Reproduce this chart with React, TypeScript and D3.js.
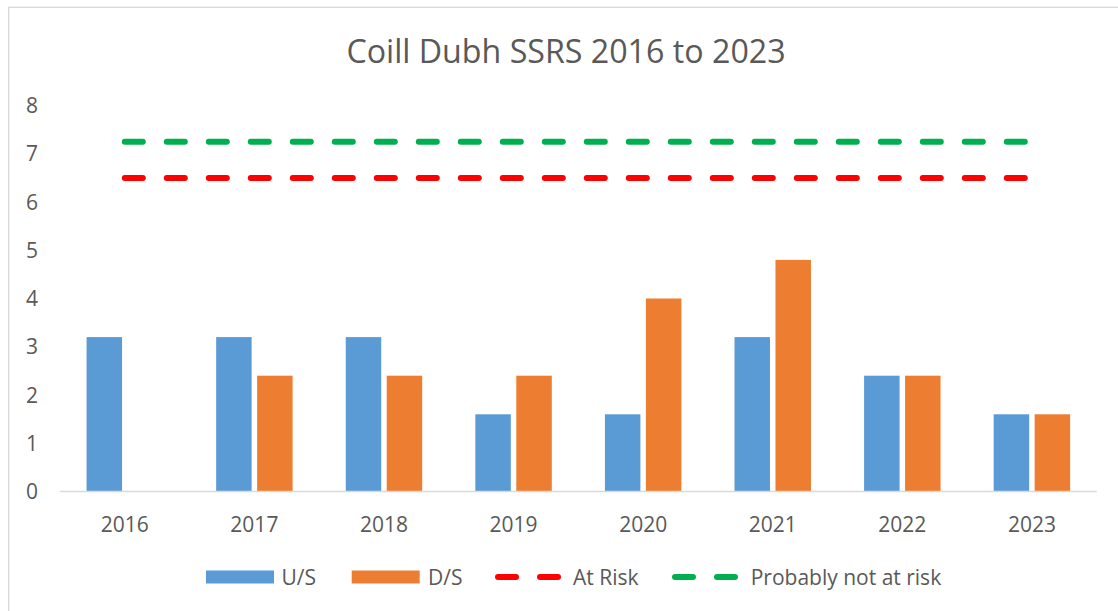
import * as d3 from 'd3';
import { useEffect, useRef } from 'react';

const years = ['2016', '2017', '2018', '2019', '2020', '2021', '2022', '2023'];
const seriesNames = ['U/S', 'D/S'];
const upstream = [3.2, 3.2, 3.2, 1.6, 1.6, 3.2, 2.4, 1.6];
const downstream = [0, 2.4, 2.4, 2.4, 4.0, 4.8, 2.4, 1.6];
const atRisk = [6.5, 6.5, 6.5, 6.5, 6.5, 6.5, 6.5, 6.5];
const notAtRisk = [7.25, 7.25, 7.25, 7.25, 7.25, 7.25, 7.25, 7.25];
const yTicks = [0, 1, 2, 3, 4, 5, 6, 7, 8];

const BLUE = '#5B9BD5';
const ORANGE = '#ED7D31';
const RED = '#FF0000';
const GREEN = '#00B050';
const TEXT = '#595959';
const FONT = '"Open Sans", "Noto Sans", sans-serif';

const Chart = () => {
  const svgRef = useRef<SVGSVGElement | null>(null);

  useEffect(() => {
    const width = 1118;
    const height = 611;
    const plot = { left: 60, right: 1096.7, top: 105.5, bottom: 491.5 };

    const svg = d3.select(svgRef.current)
      .attr('width', width)
      .attr('height', height);
    svg.selectAll('*').remove();

    // chart frame
    svg.append('rect')
      .attr('x', 8.7).attr('y', 7.3)
      .attr('width', 1130).attr('height', 620)
      .attr('fill', 'white')
      .attr('stroke', '#d9d9d9')
      .attr('stroke-width', 1.3);

    // title
    svg.append('text')
      .attr('x', 566).attr('y', 62.5)
      .attr('text-anchor', 'middle')
      .attr('font-family', FONT)
      .attr('font-size', 32.2)
      .attr('fill', TEXT)
      .text('Coill Dubh SSRS 2016 to 2023');

    const x = d3.scaleBand<string>()
      .domain(years)
      .range([plot.left, plot.right])
      .paddingInner(0.41)
      .paddingOuter(0.205);

    const xSub = d3.scaleBand<string>()
      .domain(seriesNames)
      .range([0, x.bandwidth()])
      .paddingInner(0.134);

    const y = d3.scaleLinear()
      .domain([0, 8])
      .range([plot.bottom, plot.top]);

    // y labels
    svg.append('g')
      .selectAll('text')
      .data(yTicks)
      .join('text')
      .attr('x', 38)
      .attr('y', (d) => y(d))
      .attr('dy', '0.36em')
      .attr('text-anchor', 'end')
      .attr('font-family', FONT)
      .attr('font-size', 21)
      .attr('fill', TEXT)
      .text((d) => d);

    // x labels
    svg.append('g')
      .selectAll('text')
      .data(years)
      .join('text')
      .attr('x', (d) => x(d)! + x.bandwidth() / 2)
      .attr('y', 531.5)
      .attr('text-anchor', 'middle')
      .attr('font-family', FONT)
      .attr('font-size', 21)
      .attr('fill', TEXT)
      .text((d) => d);

    // bars
    const seriesValues = [upstream, downstream];
    const seriesColors = [BLUE, ORANGE];
    seriesNames.forEach((name, si) => {
      svg.append('g')
        .selectAll('rect')
        .data(seriesValues[si])
        .join('rect')
        .attr('x', (_, i) => x(years[i])! + xSub(name)!)
        .attr('y', (d) => y(d))
        .attr('width', xSub.bandwidth())
        .attr('height', (d) => y(0) - y(d))
        .attr('fill', seriesColors[si]);
    });

    // axis line
    svg.append('line')
      .attr('x1', plot.left).attr('x2', plot.right)
      .attr('y1', y(0)).attr('y2', y(0))
      .attr('stroke', '#d9d9d9')
      .attr('stroke-width', 1.5);

    // threshold lines
    const line = d3.line<number>()
      .x((_, i) => x(years[i])! + x.bandwidth() / 2)
      .y((d) => y(d));

    [[atRisk, RED], [notAtRisk, GREEN]].forEach(([vals, color]) => {
      svg.append('path')
        .datum(vals as number[])
        .attr('fill', 'none')
        .attr('stroke', color as string)
        .attr('stroke-width', 6)
        .attr('stroke-linecap', 'round')
        .attr('stroke-dasharray', '18 24')
        .attr('d', line);
    });

    // legend
    const legendY = 577;
    const lg = svg.append('g')
      .attr('font-family', FONT)
      .attr('font-size', 21)
      .attr('fill', TEXT);

    lg.append('rect').attr('x', 206).attr('y', legendY - 6.5).attr('width', 68).attr('height', 13).attr('fill', BLUE);
    lg.append('text').attr('x', 281.5).attr('y', legendY).attr('dy', '0.36em').text('U/S');
    lg.append('rect').attr('x', 351.7).attr('y', legendY - 6.5).attr('width', 68).attr('height', 13).attr('fill', ORANGE);
    lg.append('text').attr('x', 428).attr('y', legendY).attr('dy', '0.36em').text('D/S');

    lg.append('line').attr('x1', 498).attr('x2', 558).attr('y1', legendY).attr('y2', legendY)
      .attr('stroke', RED).attr('stroke-width', 6).attr('stroke-linecap', 'round').attr('stroke-dasharray', '18 24');
    lg.append('text').attr('x', 573).attr('y', legendY).attr('dy', '0.36em').text('At Risk');
    lg.append('line').attr('x1', 675).attr('x2', 735).attr('y1', legendY).attr('y2', legendY)
      .attr('stroke', GREEN).attr('stroke-width', 6).attr('stroke-linecap', 'round').attr('stroke-dasharray', '18 24');
    lg.append('text').attr('x', 750.7).attr('y', legendY).attr('dy', '0.36em').text('Probably not at risk');
  }, []);

  return <svg ref={svgRef} style={{ position: 'absolute', left: 0, top: 0 }}></svg>;
};

export default function App() {
  return <Chart />;
}
